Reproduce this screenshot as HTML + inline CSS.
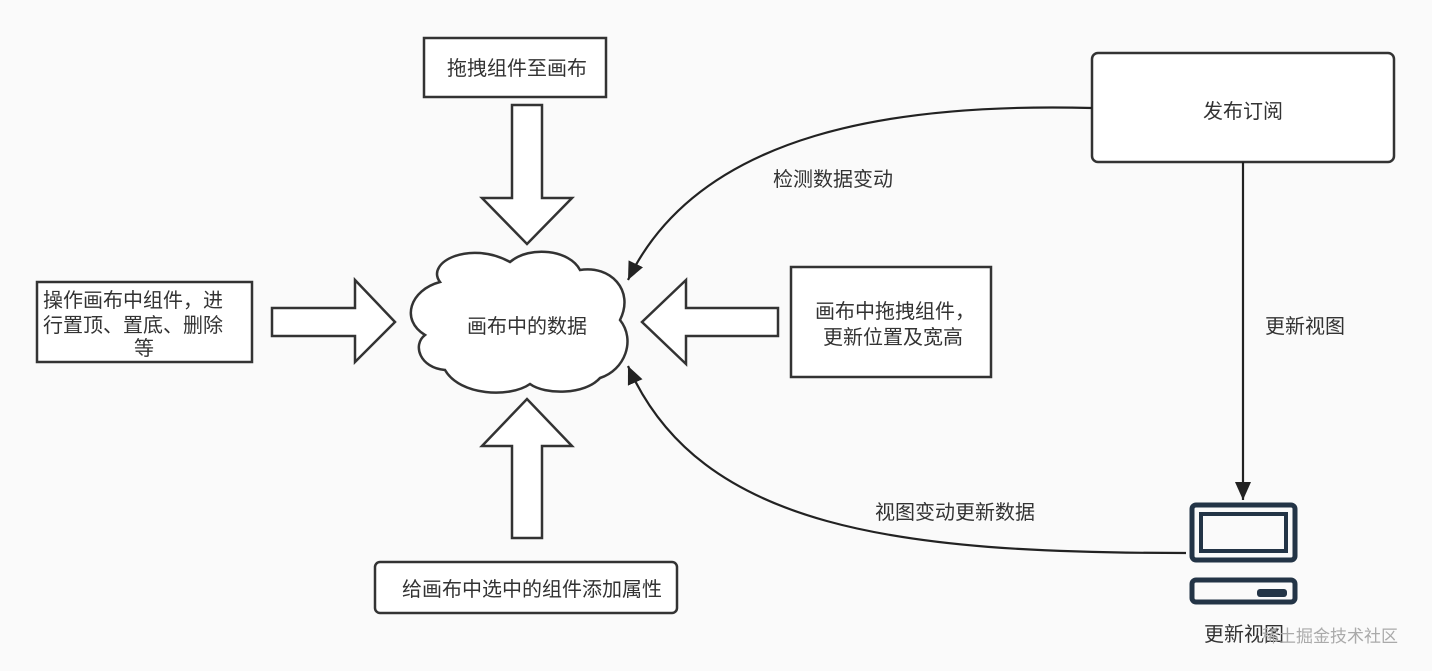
<!DOCTYPE html>
<html><head><meta charset="utf-8"><style>
body{margin:0;background:#fafafa;}
svg text{font-family:"Liberation Sans","Noto Sans CJK SC",sans-serif;font-size:20px;fill:#333;}
</style></head><body>
<svg width="1432" height="666" viewBox="0 0 1432 666" xmlns="http://www.w3.org/2000/svg">
<defs><marker id="b" markerWidth="20" markerHeight="16" refX="18" refY="8" orient="auto" markerUnits="userSpaceOnUse"><path d="M0,0 L18,8 L0,16 Z" fill="#222"/></marker></defs>
<g stroke="#333" stroke-width="2.5" fill="#fff">
<rect x="424" y="38" width="182" height="59"/>
<rect x="37" y="282" width="215" height="80"/>
<rect x="791" y="267" width="200" height="110"/>
<rect x="375" y="562" width="302" height="51" rx="5"/>
<rect x="1092" y="53" width="302" height="109" rx="6"/>
<path d="M512,105 H542 V198 H572 L527,244 L482,198 H512 Z"/>
<path d="M512,538 H542 V446 H572 L527,399 L482,446 H512 Z"/>
<path d="M272,308 V336 H355 V362 L395,322 L355,280 V308 Z"/>
<path d="M778,308 V336 H686 V364 L642,322 L686,280 V308 Z"/>
<path d="M440,282 C425,262 470,240 510,262 C530,245 570,250 580,270 C610,265 635,290 620,320 C636,340 625,370 600,378 C585,395 545,395 530,384 C510,398 460,396 445,370 C420,368 412,345 425,335 C400,320 410,290 440,282 Z"/>
</g>
<g fill="none" stroke="#222" stroke-width="2.2">
<path d="M1092,108 C900,103 700,130 628,280" marker-end="url(#b)"/>
<path d="M1186,553 C900,553 700,530 628,366" marker-end="url(#b)"/>
<path d="M1243,162 V500" marker-end="url(#b)"/>
</g>
<g stroke="#233446" stroke-width="5" fill="none">
<rect x="1192" y="505" width="103" height="55" rx="4"/>
<rect x="1201" y="514" width="85" height="37" stroke-width="4"/>
<rect x="1192" y="580" width="103" height="22" rx="4"/>
</g>
<rect x="1257" y="589" width="30" height="8" rx="3" fill="#233446"/>
<text x="447" y="75">拖拽组件至画布</text>
<text x="43" y="307">操作画布中组件，进</text>
<text x="43" y="332">行置顶、置底、删除</text>
<text x="134" y="355">等</text>
<text x="815" y="318">画布中拖拽组件，</text>
<text x="823" y="344">更新位置及宽高</text>
<text x="402" y="596">给画布中选中的组件添加属性</text>
<text x="467" y="333">画布中的数据</text>
<text x="1203" y="118">发布订阅</text>
<text x="773" y="186">检测数据变动</text>
<text x="1265" y="333">更新视图</text>
<text x="875" y="519">视图变动更新数据</text>
<text x="1204" y="641">更新视图</text>
<text x="1262" y="642" style="fill:#aaa;font-size:17px">稀土掘金技术社区</text>
</svg>
</body></html>
